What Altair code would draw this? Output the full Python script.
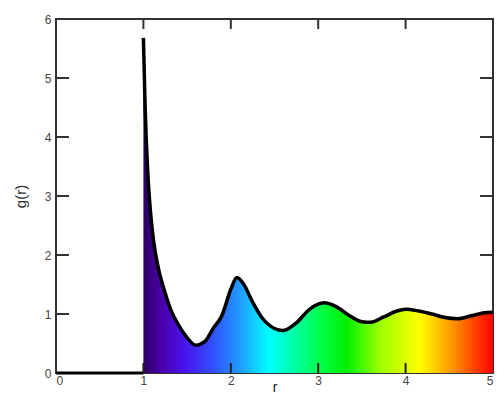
import altair as alt
import pandas as pd

# g(r) curve, r >= 1
r_vals = [1.0, 1.02, 1.05, 1.08, 1.12, 1.18, 1.24, 1.32, 1.4, 1.5, 1.6, 1.7, 1.8, 1.9,
          2.0, 2.07, 2.15, 2.25, 2.35, 2.45, 2.6, 2.75, 2.9, 3.07, 3.2, 3.35, 3.5, 3.6,
          3.75, 3.9, 4.0, 4.15, 4.3, 4.45, 4.6, 4.75, 4.9, 5.0]
g_vals = [5.68, 4.5, 3.4, 2.75, 2.2, 1.72, 1.4, 1.05, 0.82, 0.6, 0.47, 0.53, 0.76, 0.98,
          1.42, 1.62, 1.5, 1.2, 0.95, 0.8, 0.72, 0.85, 1.08, 1.19, 1.13, 0.98, 0.87, 0.86,
          0.95, 1.05, 1.08, 1.05, 1.0, 0.94, 0.92, 0.97, 1.02, 1.03]

# zero segment before the core
zero_r = [0.0, 1.0]

x_ticks = [0, 1, 2, 3, 4, 5]
y_ticks = [0, 1, 2, 3, 4, 5, 6]
x_inner_ticks = [1, 2, 3, 4]
y_inner_ticks = [1, 2, 3, 4, 5]

# spectrum stops (offset along r from 1 to 5)
grad_offsets = [0.0, 0.05, 0.12, 0.2, 0.28, 0.36, 0.5, 0.58, 0.68, 0.79, 0.88, 1.0]
grad_colors = ["#2a0060", "#4a00a8", "#4a14ee", "#3050ff", "#20a0ff", "#00ffff",
               "#00ff50", "#00f000", "#a0ff00", "#ffff00", "#ff9900", "#ff0000"]

W, H = 437, 354

curve = pd.DataFrame({"r": r_vals, "g": g_vals})
zero = pd.DataFrame({"r": zero_r, "g": [0, 0]})
xt = pd.DataFrame({"v": x_inner_ticks})
yt = pd.DataFrame({"v": y_inner_ticks})

xs = alt.Scale(domain=[0, 5], nice=False)
ys = alt.Scale(domain=[0, 6], nice=False)

font = "Liberation Sans"

x_enc = alt.X("r:Q", scale=xs, title="r",
              axis=alt.Axis(values=x_ticks, ticks=False, domain=False, grid=False,
                            labelPadding=2, labelFontSize=12, labelColor="#444",
                            labelFont=font, titleFont=font, titleFontSize=14,
                            titleFontWeight="normal", titleY=18,
                            titleBaseline="alphabetic",
                            titleColor="#222", format="d"))
y_enc = alt.Y("g:Q", scale=ys, title="g(r)",
              axis=alt.Axis(values=y_ticks, ticks=False, domain=False, grid=False,
                            labelPadding=5, labelFontSize=12, labelColor="#444",
                            labelFont=font, titleFont=font, titleFontSize=15,
                            titleFontWeight="normal", titlePadding=16,
                            titleColor="#333", format="d"))

left_ticks = alt.Chart(yt).mark_rule(color="#333", strokeWidth=2).encode(
    y=alt.Y("v:Q", scale=ys), x=alt.value(0), x2=alt.value(13))
right_ticks = alt.Chart(yt).mark_rule(color="#333", strokeWidth=2).encode(
    y=alt.Y("v:Q", scale=ys), x=alt.value(W - 13), x2=alt.value(W))
top_ticks = alt.Chart(xt).mark_rule(color="#333", strokeWidth=2).encode(
    x=alt.X("v:Q", scale=xs), y=alt.value(0), y2=alt.value(10))

gradient = alt.Gradient(
    gradient="linear",
    stops=[alt.GradientStop(color=c, offset=o) for c, o in zip(grad_colors, grad_offsets)],
    x1=0, x2=1, y1=0, y2=0)

area = alt.Chart(curve).mark_area(fill=gradient, interpolate="monotone").encode(
    x=x_enc, y=y_enc)
line = alt.Chart(curve).mark_line(color="black", strokeWidth=3.5,
                                  interpolate="monotone").encode(
    x=alt.X("r:Q", scale=xs), y=alt.Y("g:Q", scale=ys))
zline = alt.Chart(zero).mark_line(color="black", strokeWidth=3).encode(
    x=alt.X("r:Q", scale=xs), y=alt.Y("g:Q", scale=ys))
bottom_ticks = alt.Chart(xt).mark_rule(color="#222", strokeWidth=2).encode(
    x=alt.X("v:Q", scale=xs), y=alt.value(H - 10), y2=alt.value(H))

chart = alt.layer(left_ticks, right_ticks, top_ticks, area, line, zline, bottom_ticks).properties(
    width=W, height=H,
    autosize=alt.AutoSizeParams(type="none"),
    padding={"left": 48, "top": 11, "right": 3, "bottom": 22},
    background="white",
).configure_view(stroke="#333", strokeWidth=2)

chart.save("out.html", embed_options={"renderer": "svg", "actions": False})
